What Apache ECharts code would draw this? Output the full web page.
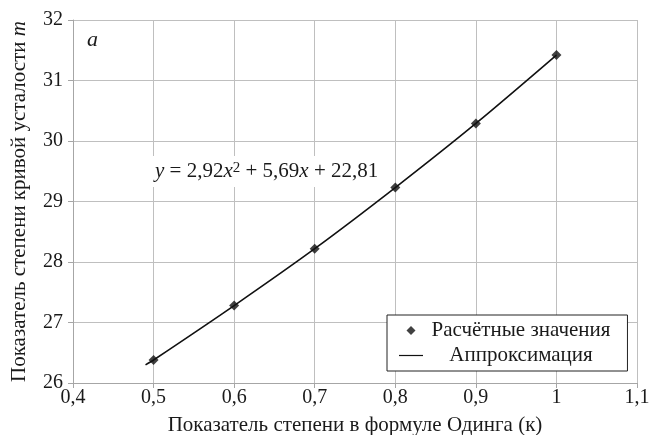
<!DOCTYPE html>
<html>
<head>
<meta charset="utf-8">
<script src="https://cdn.jsdelivr.net/npm/echarts@6/dist/echarts.min.js"></script>
<style>
  html, body { margin: 0; padding: 0; background: #fff; }
  #chart { width: 650px; height: 435px; }
</style>
</head>
<body>
<div id="chart"></div>
<script>
// Computed exponent values vs. Oding formula exponent
const kValues = [0.5, 0.6, 0.7, 0.8, 0.9, 1.0];
const mValues = [26.38, 27.28, 28.22, 29.23, 30.29, 31.42];

// Approximation curve nodes
const fitK = [0.49, 0.5, 0.6, 0.7, 0.8, 0.9, 1.0];
const fitM = [26.30, 26.38, 27.28, 28.22, 29.23, 30.29, 31.42];

const xTicks = ['0,4', '0,5', '0,6', '0,7', '0,8', '0,9', '1', '1,1'];
const seriesNames = ['Расчётные значения', 'Аппроксимация'];

const serif = '"Liberation Serif", "DejaVu Serif", serif';
const gridColor = '#bfbfbf';
const ink = '#1a1a1a';

const chart = echarts.init(document.getElementById('chart'));

chart.setOption({
  animation: false,
  backgroundColor: '#fff',
  grid: { left: 73, right: 13, top: 20, bottom: 52, containLabel: false, outerBoundsMode: 'none' },
  xAxis: {
    type: 'value',
    min: 0.4, max: 1.1, interval: 0.1,
    axisLine: { show: true, lineStyle: { color: '#a6a6a6', width: 1 } },
    axisTick: { show: true, length: 5, lineStyle: { color: '#a6a6a6' } },
    splitLine: { show: true, lineStyle: { color: gridColor, width: 1 } },
    axisLabel: {
      fontFamily: serif, fontSize: 20, color: ink, margin: 5,
      formatter: v => xTicks[Math.round((v - 0.4) * 10)]
    },
    name: 'Показатель степени в формуле Одинга (к)',
    nameLocation: 'middle', nameGap: 32,
    nameTextStyle: { fontFamily: serif, fontSize: 21, color: ink }
  },
  yAxis: {
    type: 'value',
    min: 26, max: 32, interval: 1,
    axisLine: { show: true, lineStyle: { color: '#a6a6a6', width: 1 } },
    axisTick: { show: true, length: 5, lineStyle: { color: '#a6a6a6' } },
    splitLine: { show: true, lineStyle: { color: gridColor, width: 1 } },
    axisLabel: { fontFamily: serif, fontSize: 20, color: ink, margin: 10 },
    name: '{n|Показатель степени кривой усталости }{i|m}',
    nameLocation: 'middle', nameGap: 43,
    nameTextStyle: {
      rich: {
        n: { fontFamily: serif, fontSize: 21, color: ink },
        i: { fontFamily: serif, fontSize: 21, color: ink, fontStyle: 'italic' }
      }
    }
  },
  legend: {
    orient: 'vertical',
    left: 387, top: 315,
    symbolKeepAspect: true,
    data: [
      { name: seriesNames[0], icon: 'path://M5,0 L10,5 L5,10 L0,5 Z' },
      { name: seriesNames[1], icon: 'path://M0,0 L24,0 L24,1.2 L0,1.2 Z' }
    ],
    itemWidth: 24, itemHeight: 9, itemGap: 4,
    padding: [5, 17, 5, 12],
    borderColor: '#222', borderWidth: 1,
    backgroundColor: '#fff',
    formatter: name => '{c|' + name + '}',
    textStyle: {
      fontFamily: serif, fontSize: 21, color: ink,
      rich: {
        c: { fontFamily: serif, fontSize: 21, color: ink, width: 186, align: 'center' }
      }
    }
  },
  series: [
    {
      name: seriesNames[1],
      type: 'line',
      data: fitK.map((k, i) => [k, fitM[i]]),
      smooth: 0.3,
      showSymbol: false,
      symbol: 'none',
      lineStyle: { color: '#111', width: 1.6 },
      itemStyle: { color: '#111' },
      z: 2
    },
    {
      name: seriesNames[0],
      type: 'scatter',
      data: kValues.map((k, i) => [k, mValues[i]]),
      symbol: 'diamond',
      symbolSize: 10,
      itemStyle: { color: '#111' },
      z: 3
    }
  ],
  graphic: [
    {
      type: 'text',
      left: 87, top: 29,
      style: {
        text: 'a',
        font: 'italic 22px ' + serif,
        fill: ink
      }
    },
    {
      type: 'text',
      left: 151, top: 156,
      z: 10,
      style: {
        text: '{i|y}{n| = 2,92}{i|x}{s|2}{n| + 5,69}{i|x}{n| + 22,81}',
        backgroundColor: '#fff',
        padding: [2, 4, 3, 4],
        rich: {
          n: { fontFamily: serif, fontSize: 21, fill: ink, lineHeight: 26 },
          i: { fontFamily: serif, fontSize: 21, fill: ink, fontStyle: 'italic', lineHeight: 26 },
          s: { fontFamily: serif, fontSize: 15, fill: ink, lineHeight: 26, padding: [0, 0, 6, 0] }
        }
      }
    }
  ]
});
</script>
</body>
</html>
